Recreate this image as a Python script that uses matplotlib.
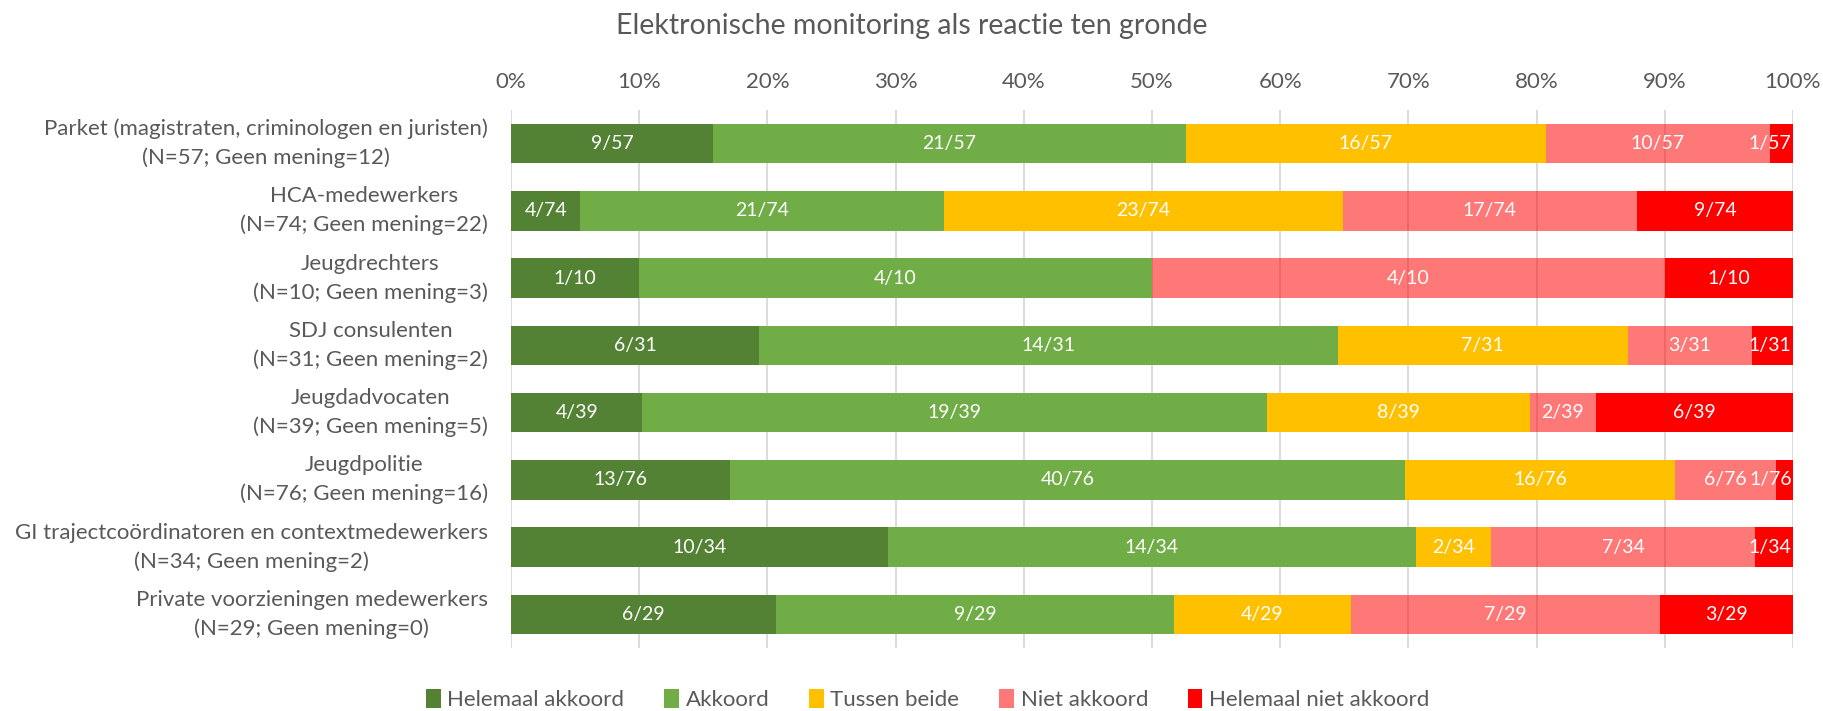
import numpy as np
import matplotlib.pyplot as plt
import matplotlib.transforms as mtransforms
from matplotlib.patches import Patch

plt.rcParams['font.family'] = ['Lato', 'DejaVu Sans']

# Groups (top to bottom) and answer counts
groups = [
    "Parket (magistraten, criminologen en juristen)\n(N=57; Geen mening=12)",
    "HCA-medewerkers\n(N=74; Geen mening=22)",
    "Jeugdrechters\n(N=10; Geen mening=3)",
    "SDJ consulenten\n(N=31; Geen mening=2)",
    "Jeugdadvocaten\n(N=39; Geen mening=5)",
    "Jeugdpolitie\n(N=76; Geen mening=16)",
    "GI trajectcoördinatoren en contextmedewerkers\n(N=34; Geen mening=2)",
    "Private voorzieningen medewerkers\n(N=29; Geen mening=0)",
]
N = [57, 74, 10, 31, 39, 76, 34, 29]

helemaal_akkoord = [9, 4, 1, 6, 4, 13, 10, 6]
akkoord = [21, 21, 4, 14, 19, 40, 14, 9]
tussen_beide = [16, 23, 0, 7, 8, 16, 2, 4]
niet_akkoord = [10, 17, 4, 3, 2, 6, 7, 7]
helemaal_niet = [1, 9, 1, 1, 6, 1, 1, 3]

series_names = ["Helemaal akkoord", "Akkoord", "Tussen beide", "Niet akkoord", "Helemaal niet akkoord"]
series = [helemaal_akkoord, akkoord, tussen_beide, niet_akkoord, helemaal_niet]
colors = ["#548235", "#70AD47", "#FFC000", "#FF0000", "#FF0000"]
alphas = [1, 1, 1, 0.53, 1]

fig = plt.figure(figsize=(18.23, 7.11), dpi=100)
ax = fig.add_axes([0.2803, 0.0886, 0.9835 - 0.2803, 0.8453 - 0.0886])

y = np.arange(len(groups))
N_arr = np.array(N, dtype=float)
left = np.zeros(len(groups))
for name, vals, col, a in zip(series_names, series, colors, alphas):
    vals = np.array(vals, dtype=float)
    frac = vals / N_arr
    ax.barh(y, frac, left=left, height=0.59, color=col, alpha=a, zorder=2, linewidth=0)
    for i in range(len(groups)):
        if vals[i] == 0:
            continue
        xc = left[i] + frac[i] / 2
        ha = 'center'
        # label would run past the plot edge -> keep it inside like Excel does
        if xc + 0.02 > 1:
            xc, ha = 0.999, 'right'
        ax.text(xc, y[i], "%d/%d" % (vals[i], N[i]),
                ha=ha, va='center', color='white', fontsize=14, zorder=3)
    left += frac

ax.set_xlim(0, 1)
ax.set_ylim(len(groups) - 0.5, -0.5)
ax.set_xticks(np.arange(0, 1.01, 0.1))
ax.set_xticklabels(["%d%%" % v for v in range(0, 101, 10)])
ax.xaxis.tick_top()
ax.tick_params(axis='x', length=0, pad=13, labelsize=16, labelcolor='#595959')
ax.set_yticks(y)
ax.set_yticklabels([])
ax.tick_params(axis='y', length=0)
# category labels: two lines, centred on each other, right edge near the axis
trans = mtransforms.blended_transform_factory(ax.transAxes, ax.transData)
for yi, g in zip(y, groups):
    ax.text(-0.018, yi, g, transform=trans, ha='right', va='center', multialignment='center',
            fontsize=16, color='#595959', linespacing=1.5)
ax.grid(axis='x', color='#D9D9D9', linewidth=1.3, zorder=0)
ax.set_axisbelow(True)
for s in ax.spines.values():
    s.set_visible(False)

fig.text(0.5, 1 - 26 / 711, "Elektronische monitoring als reactie ten gronde",
         ha='center', va='center', fontsize=20.5, color='#595959')

handles = [Patch(facecolor=c, alpha=a, edgecolor='none') for c, a in zip(colors, alphas)]
fig.legend(handles, series_names, loc='center', bbox_to_anchor=(0.509, 1 - 702 / 711 + 0.003),
           ncol=5, frameon=False, fontsize=16, labelcolor='#595959',
           handlelength=0.65, handleheight=0.9, handletextpad=0.3, columnspacing=1.8)

fig.savefig("out.png", dpi=100)
